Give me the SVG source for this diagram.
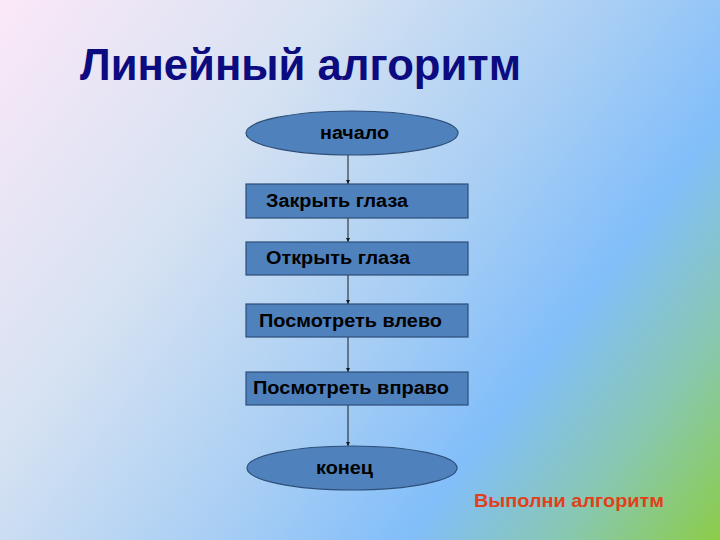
<svg xmlns="http://www.w3.org/2000/svg" width="720" height="540" viewBox="0 0 720 540">
<defs>
<linearGradient id="bg" gradientUnits="userSpaceOnUse" x1="0" y1="0" x2="720" y2="540">
<stop offset="0" stop-color="#FBE8F8"/>
<stop offset="0.3" stop-color="#D6E2F2"/>
<stop offset="0.55" stop-color="#A8CEF4"/>
<stop offset="0.72" stop-color="#82BEFA"/>
<stop offset="0.86" stop-color="#88C8B0"/>
<stop offset="1" stop-color="#8CCC48"/>
</linearGradient>
<marker id="arr" viewBox="0 0 10 10" refX="10" refY="5" markerWidth="4" markerHeight="4" orient="auto" markerUnits="userSpaceOnUse">
<path d="M0,0 L10,5 L0,10 z" fill="#1A1A1A"/>
</marker>
<style>
.shape{fill:#4F81BD;stroke:#2E4E78;stroke-width:1.2}
.lbl{font-family:"Liberation Sans",Arial,sans-serif;font-weight:bold;font-size:18px;fill:#000000}
.conn{stroke:#1A1A1A;stroke-width:1;fill:none;marker-end:url(#arr)}
</style>
</defs>
<rect width="720" height="540" fill="url(#bg)"/>
<text x="80" y="80" font-family="'Liberation Sans',Arial,sans-serif" font-weight="bold" font-size="44" fill="#0C0C80" textLength="441" lengthAdjust="spacingAndGlyphs">Линейный алгоритм</text>
<g id="connectors">
<line class="conn" x1="348" y1="155" x2="348" y2="184"/>
<line class="conn" x1="348" y1="218" x2="348" y2="242"/>
<line class="conn" x1="348" y1="275" x2="348" y2="304"/>
<line class="conn" x1="348" y1="337" x2="348" y2="372"/>
<line class="conn" x1="348" y1="405" x2="348" y2="446"/>
</g>
<g id="start">
<ellipse class="shape" cx="352" cy="133" rx="106" ry="22"/>
<text class="lbl" x="320" y="139" textLength="69" lengthAdjust="spacingAndGlyphs">начало</text>
</g>
<g id="step1">
<rect class="shape" x="246" y="184" width="222" height="34"/>
<text class="lbl" x="266" y="207" textLength="142" lengthAdjust="spacingAndGlyphs">Закрыть глаза</text>
</g>
<g id="step2">
<rect class="shape" x="246" y="242" width="222" height="33"/>
<text class="lbl" x="266" y="264" textLength="144" lengthAdjust="spacingAndGlyphs">Открыть глаза</text>
</g>
<g id="step3">
<rect class="shape" x="246" y="304" width="222" height="33"/>
<text class="lbl" x="259" y="327" textLength="183" lengthAdjust="spacingAndGlyphs">Посмотреть влево</text>
</g>
<g id="step4">
<rect class="shape" x="246" y="372" width="222" height="33"/>
<text class="lbl" x="253" y="394" textLength="196" lengthAdjust="spacingAndGlyphs">Посмотреть вправо</text>
</g>
<g id="end">
<ellipse class="shape" cx="352" cy="468" rx="105" ry="22"/>
<text class="lbl" x="316" y="474" textLength="57" lengthAdjust="spacingAndGlyphs">конец</text>
</g>
<text x="474" y="507" font-family="'Liberation Sans',Arial,sans-serif" font-weight="bold" font-size="19" fill="#E0401A" textLength="190" lengthAdjust="spacingAndGlyphs">Выполни алгоритм</text>
</svg>
